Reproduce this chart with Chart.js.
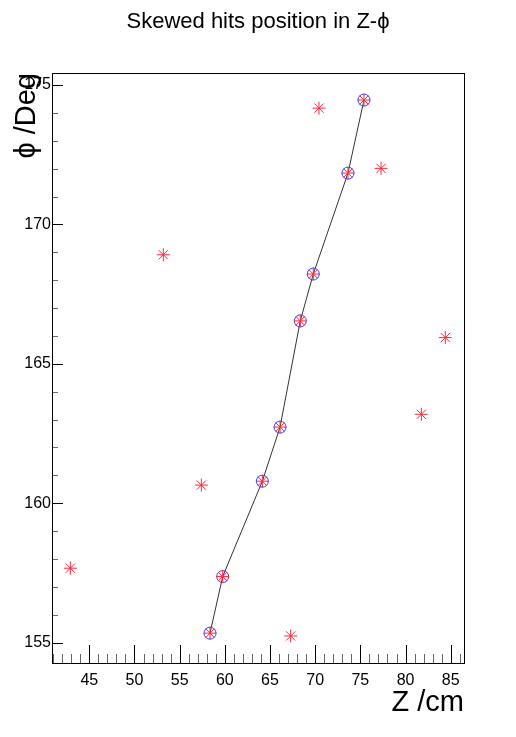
<!DOCTYPE html>
<html>
<head>
<meta charset="utf-8">
<script src="https://cdn.jsdelivr.net/npm/chart.js@4.4.1/dist/chart.umd.min.js"></script>
<style>
  html, body { margin: 0; padding: 0; background: #fff; }
  #wrap { width: 516px; height: 737px; }
</style>
</head>
<body>
<div id="wrap"><canvas id="hits"></canvas></div>
<script>
// all skewed hits (red stars)
const hitZ   = [58.36, 59.76, 64.15, 66.11, 68.35, 69.79, 73.63, 75.40, 70.42, 77.29, 53.19, 84.40, 81.75, 57.40, 42.90, 67.29];
const hitPhi = [155.34, 157.37, 160.79, 162.73, 166.54, 168.22, 171.84, 174.46, 174.17, 172.01, 168.91, 165.94, 163.19, 160.65, 157.67, 155.24];

// hits kept on the track (blue circles + line)
const trackZ   = [58.36, 59.76, 64.15, 66.11, 68.35, 69.79, 73.63, 75.40];
const trackPhi = [155.34, 157.37, 160.79, 162.73, 166.54, 168.22, 171.84, 174.46];

const zRange = [40.87, 86.47];
const phiRange = [154.27, 175.43];
const majorStep = 5;

const toXY = (xs, ys) => xs.map((x, i) => ({ x: x, y: ys[i] }));
const FONT = "'Liberation Sans', Arial, sans-serif";

// one tick per unit, labels only every 5
function unitTicks(scale) {
  const out = [];
  for (let v = Math.ceil(scale.min); v <= Math.floor(scale.max); v++) out.push({ value: v });
  scale.ticks = out;
}
const labelFive = v => (Math.round(v) % majorStep === 0 ? String(Math.round(v)) : "");

// ROOT style inward ticks + frame
const rootFrame = {
  id: "rootFrame",
  afterDraw(chart) {
    const ctx = chart.ctx;
    const a = chart.chartArea;
    const xs = chart.scales.x, ys = chart.scales.y;
    ctx.save();
    ctx.lineWidth = 1;
    xs.ticks.forEach(t => {
      const major = t.value % majorStep === 0;
      const px = Math.round(xs.getPixelForValue(t.value)) + 0.5;
      ctx.strokeStyle = major ? "#000" : "#666";
      ctx.beginPath();
      ctx.moveTo(px, a.bottom);
      ctx.lineTo(px, a.bottom - (major ? 18 : 9));
      ctx.stroke();
    });
    ys.ticks.forEach(t => {
      const major = t.value % majorStep === 0;
      const py = Math.round(ys.getPixelForValue(t.value)) + 0.5;
      ctx.strokeStyle = major ? "#000" : "#666";
      ctx.beginPath();
      ctx.moveTo(a.left, py);
      ctx.lineTo(a.left + (major ? 11 : 6), py);
      ctx.stroke();
    });
    ctx.strokeStyle = "#000";
    ctx.strokeRect(Math.round(a.left) + 0.5, Math.round(a.top) + 0.5,
      Math.round(a.right - a.left), Math.round(a.bottom - a.top));
    ctx.restore();
  }
};

new Chart(document.getElementById("hits"), {
  type: "scatter",
  data: {
    datasets: [
      {
        label: "track",
        data: toXY(trackZ, trackPhi),
        showLine: true,
        borderColor: "#333",
        borderWidth: 1,
        pointStyle: "circle",
        pointRadius: 6,
        pointBorderColor: "#3344ff",
        pointBackgroundColor: "rgba(0,0,0,0)",
        pointBorderWidth: 1,
        order: 2
      },
      {
        label: "hits",
        data: toXY(hitZ, hitPhi),
        showLine: false,
        pointStyle: "star",
        pointRadius: 6.5,
        pointBorderColor: "rgb(255,40,60)",
        pointBorderWidth: 1,
        order: 1
      }
    ]
  },
  options: {
    responsive: true,
    maintainAspectRatio: false,
    animation: false,
    layout: { padding: 0 },
    plugins: {
      legend: { display: false },
      tooltip: { enabled: false },
      title: {
        display: true,
        text: "Skewed hits position in Z-\u03d5",
        color: "#000",
        font: { family: FONT, size: 22, weight: "normal" },
        padding: { top: 9, bottom: 37.6 }
      }
    },
    scales: {
      x: {
        type: "linear",
        min: zRange[0],
        max: zRange[1],
        afterBuildTicks: unitTicks,
        afterFit: s => { s.height = 74; },
        grid: { display: false, drawTicks: false },
        border: { display: false },
        ticks: {
          autoSkip: false,
          maxRotation: 0,
          padding: 8,
          color: "#000",
          font: { family: FONT, size: 16 },
          callback: labelFive
        },
        title: {
          display: true,
          text: "Z /cm",
          align: "end",
          color: "#000",
          font: { family: FONT, size: 29 },
          padding: { top: 0, bottom: 17 }
        }
      },
      y: {
        type: "linear",
        min: phiRange[0],
        max: phiRange[1],
        afterBuildTicks: unitTicks,
        afterFit: s => { s.width = 52; },
        grid: { display: false, drawTicks: false },
        border: { display: false },
        ticks: {
          autoSkip: false,
          padding: 1,
          color: "#000",
          font: { family: FONT, size: 16 },
          callback: labelFive
        },
        title: {
          display: true,
          text: "\u03d5 /Deg",
          align: "end",
          color: "#000",
          font: { family: FONT, size: 29 },
          padding: { top: 10, bottom: 0 }
        }
      },
      // empty right margin so the title centres on the whole page
      yRight: {
        type: "linear",
        position: "right",
        min: phiRange[0],
        max: phiRange[1],
        afterFit: s => { s.width = 52; },
        grid: { display: false, drawTicks: false },
        border: { display: false },
        ticks: { display: false }
      }
    }
  },
  plugins: [rootFrame]
});
</script>
</body>
</html>
